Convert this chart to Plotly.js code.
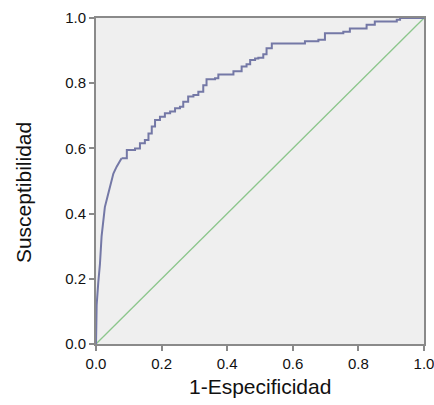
<!DOCTYPE html>
<html>
<head>
<meta charset="utf-8">
<script src="https://cdn.plot.ly/plotly-3.0.1.min.js"></script>
<style>html,body{margin:0;padding:0;background:#fff;}#chart{width:434px;height:405px;}</style>
</head>
<body>
<div id="chart"></div>
<script>
const fpr = [0, 0, 0.002, 0.007, 0.012, 0.017, 0.022, 0.027, 0.035, 0.043, 0.053, 0.063, 0.078, 0.094, 0.119, 0.134, 0.149, 0.160, 0.170, 0.180, 0.195, 0.210, 0.226, 0.241, 0.256, 0.266, 0.281, 0.297, 0.312, 0.327, 0.337, 0.363, 0.373, 0.409, 0.419, 0.434, 0.444, 0.459, 0.470, 0.485, 0.495, 0.510, 0.520, 0.536, 0.627, 0.637, 0.678, 0.698, 0.754, 0.774, 0.825, 0.85, 0.917, 0.927, 1.0];
const tpr = [0, 0.06, 0.12, 0.19, 0.245, 0.33, 0.38, 0.42, 0.452, 0.483, 0.523, 0.544, 0.570, 0.595, 0.600, 0.616, 0.626, 0.646, 0.667, 0.687, 0.697, 0.708, 0.713, 0.723, 0.728, 0.743, 0.759, 0.764, 0.774, 0.794, 0.812, 0.815, 0.827, 0.827, 0.837, 0.837, 0.851, 0.858, 0.871, 0.876, 0.878, 0.889, 0.907, 0.922, 0.922, 0.929, 0.933, 0.953, 0.958, 0.968, 0.979, 0.989, 0.995, 1.0, 1.0];
const refX = [0, 1];
const refY = [0, 1];
const tickVals = [0, 0.2, 0.4, 0.6, 0.8, 1.0];
const tickText = ['0.0', '0.2', '0.4', '0.6', '0.8', '1.0'];
const xTitle = '1-Especificidad';
const yTitle = 'Susceptibilidad';

// steep initial part drawn smooth, the rest as ROC staircase
const split = 12;
const font = 'Liberation Sans, Arial, sans-serif';
const curveLine = {color: '#7478a6', width: 2};
const traces = [
  {x: refX, y: refY, mode: 'lines', line: {color: '#8cc68c', width: 1.3}, hoverinfo: 'skip'},
  {x: fpr.slice(0, split + 1), y: tpr.slice(0, split + 1), mode: 'lines', line: Object.assign({shape: 'linear'}, curveLine), hoverinfo: 'skip'},
  {x: fpr.slice(split), y: tpr.slice(split), mode: 'lines', line: Object.assign({shape: 'hv'}, curveLine), hoverinfo: 'skip'}
];
const axisBase = {
  range: [0, 1], tickvals: tickVals, ticktext: tickText,
  showgrid: false, zeroline: false, showline: true, mirror: true,
  linecolor: '#8a8a8a', linewidth: 2, ticks: 'outside', ticklen: 5,
  tickcolor: '#8a8a8a', tickwidth: 2, ticklabeloverflow: 'allow',
  tickfont: {family: font, size: 15, color: '#111'}
};
const layout = {
  width: 434, height: 405,
  margin: {l: 96, r: 10, t: 18, b: 61},
  paper_bgcolor: '#ffffff', plot_bgcolor: '#efefef',
  showlegend: false,
  xaxis: Object.assign({}, axisBase),
  yaxis: Object.assign({}, axisBase),
  annotations: [
    {text: xTitle, xref: 'paper', yref: 'paper', x: 0.5, y: -0.13, xanchor: 'center', yanchor: 'middle', showarrow: false, font: {family: font, size: 21, color: '#111'}},
    {text: yTitle, xref: 'paper', yref: 'paper', x: -0.2226, y: 0.466, xanchor: 'center', yanchor: 'middle', textangle: -90, showarrow: false, font: {family: font, size: 21, color: '#111'}}
  ]
};
Plotly.newPlot('chart', traces, layout, {staticPlot: true, displayModeBar: false});
</script>
</body>
</html>
